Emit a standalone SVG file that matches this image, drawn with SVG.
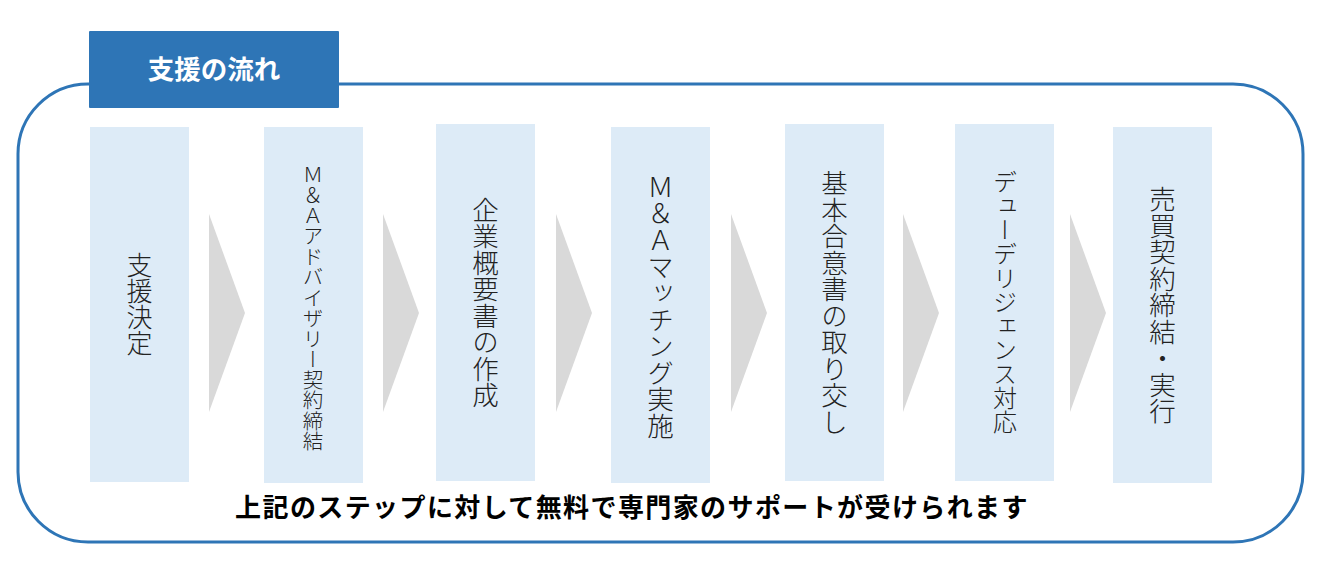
<svg xmlns="http://www.w3.org/2000/svg" width="1330" height="585" viewBox="0 0 1330 585">
<style>
.frame{fill:none;stroke:#2E75B6;stroke-width:3}
.hdr{fill:#2E75B6}
.hdrt{fill:#FFFFFF;font-family:"Noto Sans CJK JP","Noto Sans",sans-serif;font-weight:700;font-size:26.5px;text-anchor:middle}
.step{fill:#DDEBF7}
.arr{fill:#D9D9D9}
.vt{fill:#222222;font-family:"Noto Sans CJK JP","Noto Sans",sans-serif;font-weight:300;writing-mode:vertical-rl;text-anchor:middle;dominant-baseline:central}
.note{fill:#000000;font-family:"Noto Sans CJK JP","Noto Sans",sans-serif;font-weight:700;font-size:26px;text-anchor:middle;letter-spacing:1.4px}
</style>
<rect class="frame" x="18" y="84" width="1285" height="458" rx="70" ry="70"/>
<g id="header">
<rect class="hdr" x="89" y="31" width="250" height="77" rx="1"/>
<text class="hdrt" x="214" y="78.5">支援の流れ</text>
</g>
<g id="step1">
<rect class="step" x="90" y="127" width="99" height="355"/>
<text class="vt" x="139.5" y="304.5" font-size="26">支援決定</text>
</g>
<g id="step2">
<rect class="step" x="264" y="127" width="99" height="356"/>
<text class="vt" x="313" y="308" font-size="20.5">Ｍ＆Ａアドバイザリー契約締結</text>
</g>
<g id="step3">
<rect class="step" x="436" y="124" width="99" height="357"/>
<text class="vt" x="485.5" y="302.5" font-size="26.5">企業概要書の作成</text>
</g>
<g id="step4">
<rect class="step" x="611" y="127" width="99" height="356"/>
<text class="vt" x="660.5" y="306.5" font-size="26.5">Ｍ＆Ａマッチング実施</text>
</g>
<g id="step5">
<rect class="step" x="785" y="124" width="99" height="357"/>
<text class="vt" x="834.5" y="302.5" font-size="26.5">基本合意書の取り交し</text>
</g>
<g id="step6">
<rect class="step" x="955" y="124" width="99" height="357"/>
<text class="vt" x="1005" y="301.5" font-size="24">デューデリジェンス対応</text>
</g>
<g id="step7">
<rect class="step" x="1113" y="127" width="99" height="356"/>
<text class="vt" x="1162.5" y="305" font-size="26.5">売買契約締結・実行</text>
</g>
<g id="connectors">
<polygon class="arr" points="209,214 245,313 209,412"/>
<polygon class="arr" points="383,214 419,313 383,412"/>
<polygon class="arr" points="556,214 592,313 556,412"/>
<polygon class="arr" points="731,214 767,313 731,412"/>
<polygon class="arr" points="903,214 939,313 903,412"/>
<polygon class="arr" points="1070,214 1106,313 1070,412"/>
</g>
<text class="note" x="632" y="517">上記のステップに対して無料で専門家のサポートが受けられます</text>
</svg>
